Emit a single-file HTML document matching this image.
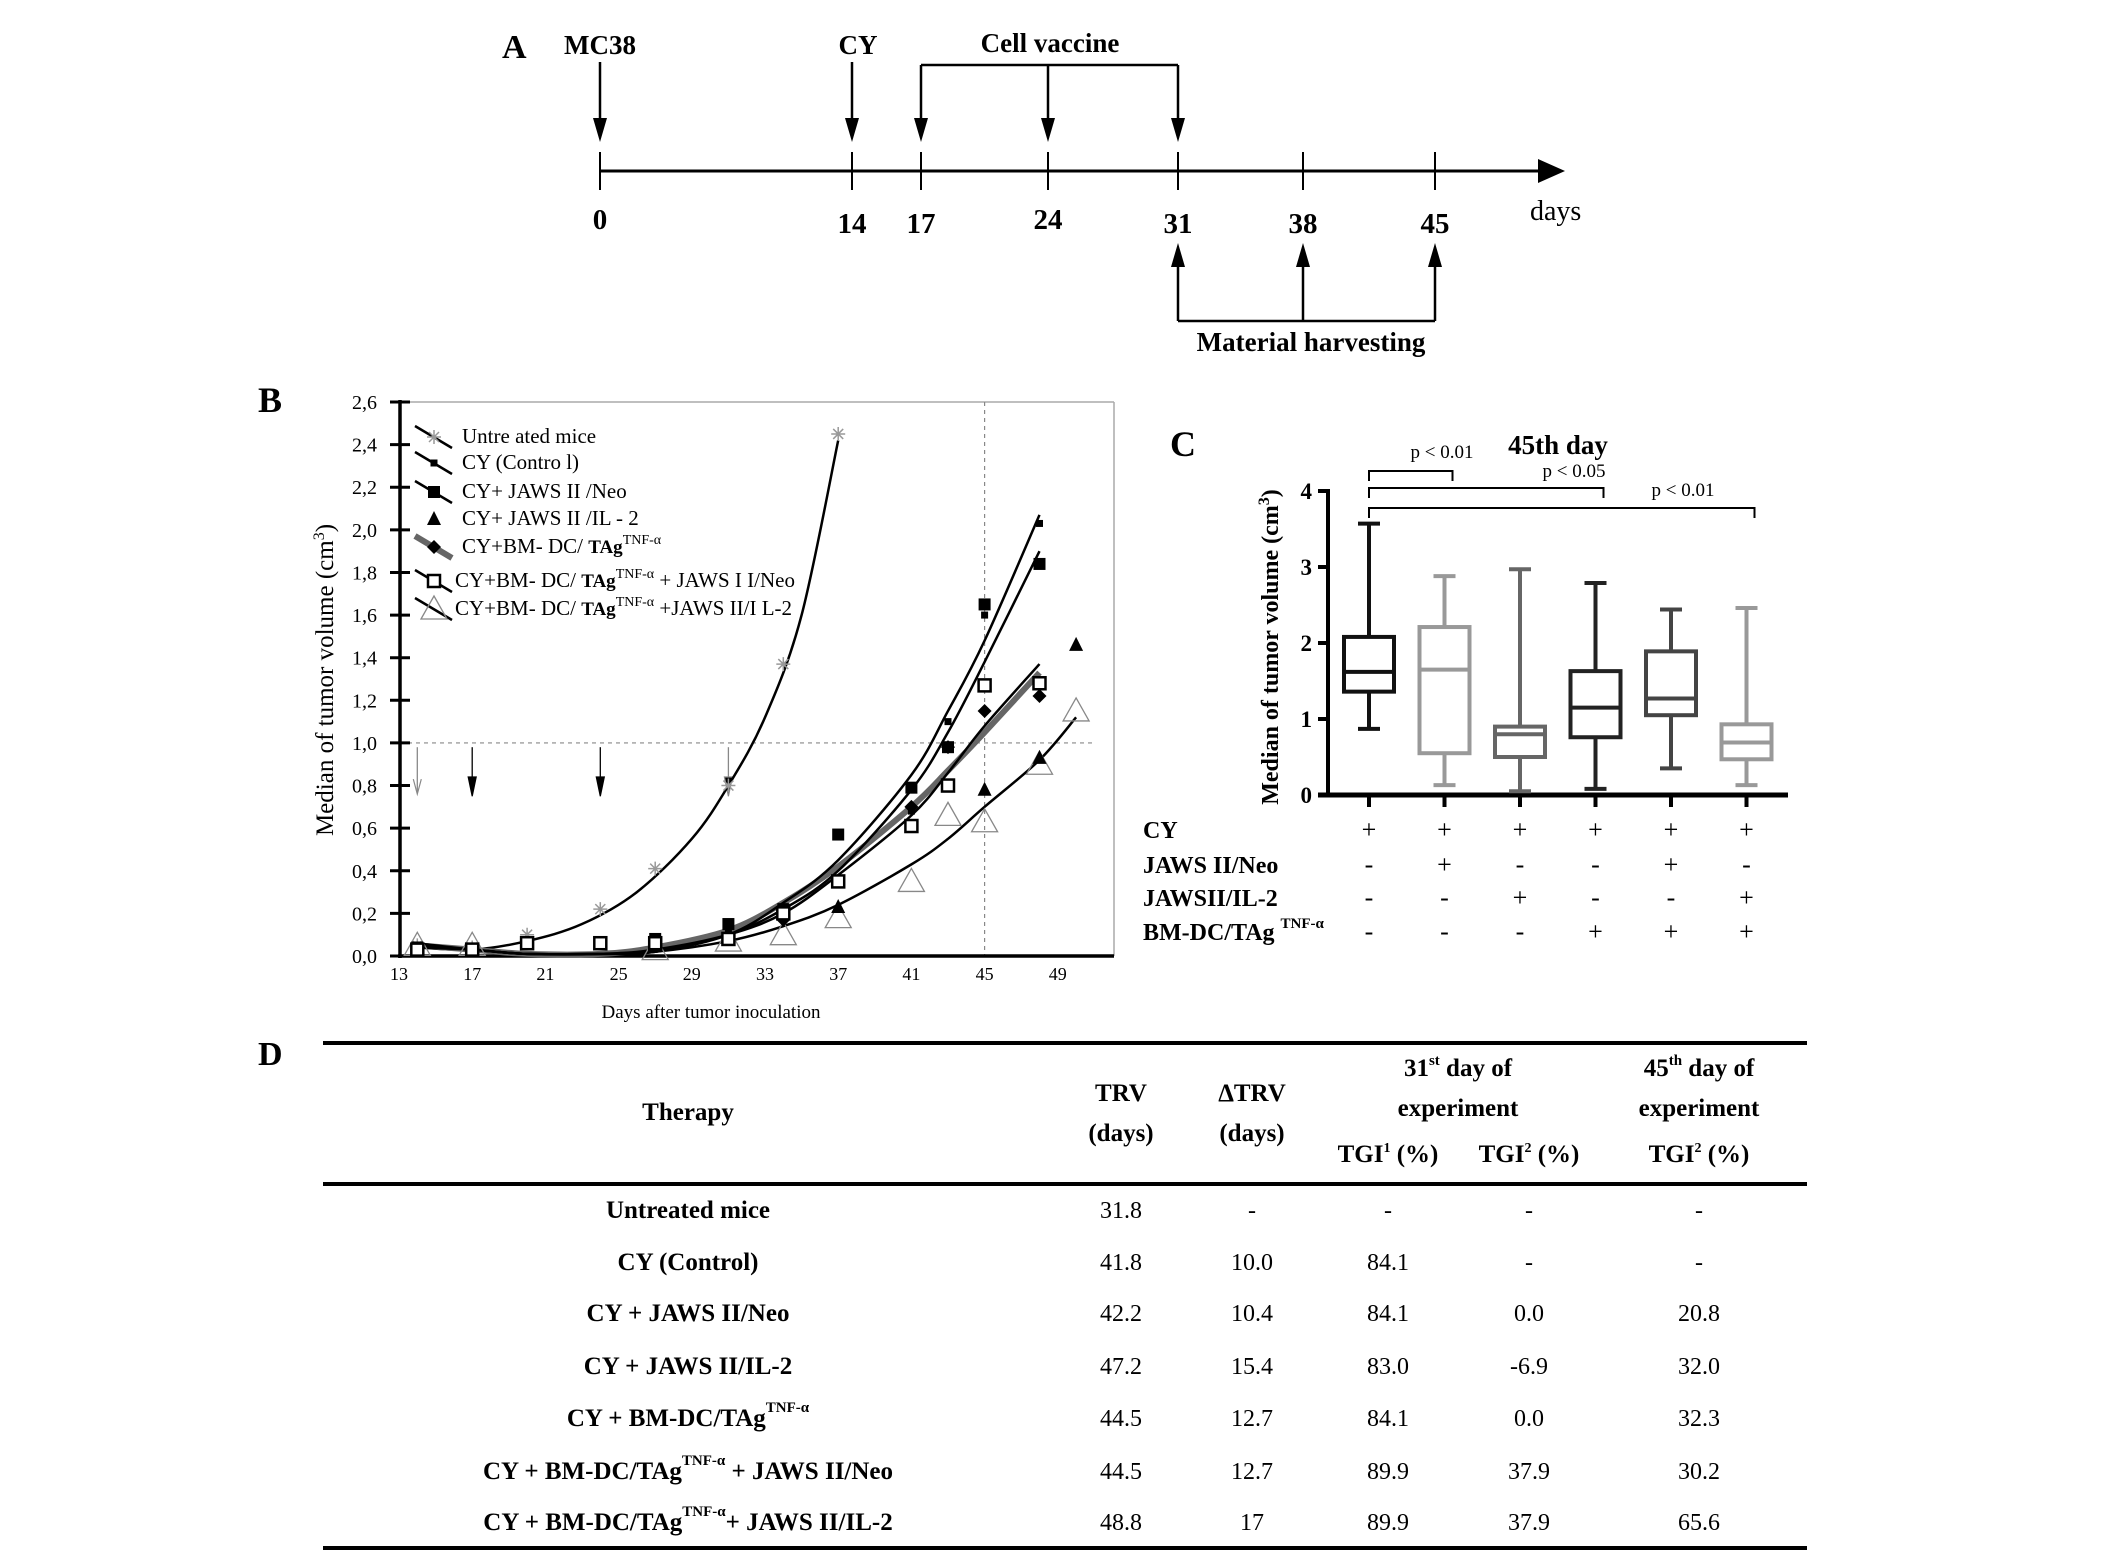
<!DOCTYPE html>
<html><head><meta charset="utf-8"><style>
html,body{margin:0;padding:0;background:#fff}
svg{display:block}
text{font-family:"Liberation Serif",serif}
</style></head><body>
<svg id="fig" width="2126" height="1562" viewBox="0 0 2126 1562" xmlns="http://www.w3.org/2000/svg">
<!-- Panel A -->
<g id="panelA">
<text x="502" y="58" font-size="34" font-weight="bold">A</text>
<line x1="600" y1="171" x2="1545" y2="171" stroke="#000" stroke-width="3"/>
<path d="M1538,159 L1565,171 L1538,183 z" fill="#000"/>
<text x="1530" y="220" font-size="28">days</text>
</g>
<!-- Panel B -->
<g id="panelB">
<text x="258" y="412" font-size="36" font-weight="bold">B</text>
</g>
<!-- Panel C -->
<g id="panelC">
<text x="1170" y="456" font-size="36" font-weight="bold">C</text>
<text x="1558" y="454" font-size="27" font-weight="bold" text-anchor="middle">45th day</text>
</g>
<!-- Panel D -->
<g id="panelD">
<text x="258" y="1065" font-size="34" font-weight="bold">D</text>
</g>
</svg>
<script>
const NS="http://www.w3.org/2000/svg";
function mk(parent,tag,attrs,txt){const e=document.createElementNS(NS,tag);for(const k in attrs)e.setAttribute(k,attrs[k]);if(txt!==undefined)e.textContent=txt;parent.appendChild(e);return e;}

/* ===== Panel A data ===== */
const timelineDays=[0,14,17,24,31,38,45];
const vaccineDays=[17,24,31];
const harvestDays=[31,38,45];
const gA=document.getElementById('panelA');
const tlX={0:600,14:852,17:921,24:1048,31:1178,38:1303,45:1435};
function ax(d){return tlX[d];}
timelineDays.forEach(d=>{
  const t=mk(gA,'line',{x1:ax(d),y1:152,x2:ax(d),y2:190,stroke:'#000','stroke-width':2});
  
  
  const l=mk(gA,'text',{x:ax(d),y:(d===0||d===24)?229:233,'font-size':29,'font-weight':'bold','text-anchor':'middle'},String(d));
  
  
});
function downArrow(x,y1,y2,name){const a=mk(gA,'line',{x1:x,y1:y1,x2:x,y2:y2-20,stroke:'#000','stroke-width':2.5});
 const h=mk(gA,'path',{d:`M${x-7},${y2-24} L${x},${y2} L${x+7},${y2-24} z`,fill:'#000'});}
downArrow(600,62,142,'mc38-arrow');downArrow(852,62,142,'cy-arrow');
vaccineDays.forEach(d=>downArrow(ax(d),65,142,'vaccine-arrow'));
const vb=mk(gA,'line',{x1:921,y1:65,x2:1178,y2:65,stroke:'#000','stroke-width':2.5});
harvestDays.forEach(d=>{const x=ax(d);const a=mk(gA,'line',{x1:x,y1:321,x2:x,y2:262,stroke:'#000','stroke-width':2.5});
 const h=mk(gA,'path',{d:`M${x-7},${267} L${x},${243} L${x+7},${267} z`,fill:'#000'});});
const hb=mk(gA,'line',{x1:1178,y1:321,x2:1435,y2:321,stroke:'#000','stroke-width':2.5});
[['MC38',600,54,'mc38-label'],['CY',858,54,'cy-label'],['Cell  vaccine',1050,52,'cell-vaccine-label'],['Material  harvesting',1311,351,'material-harvesting-label']].forEach(a=>{
 const t=mk(gA,'text',{x:a[1],y:a[2],'font-size':27,'font-weight':'bold','text-anchor':'middle','xml:space':'preserve'},a[0]);});

/* ===== Panel B data ===== */
const xTicksB=[13,17,21,25,29,33,37,41,45,49];
const yTicksB=[0,0.2,0.4,0.6,0.8,1.0,1.2,1.4,1.6,1.8,2.0,2.2,2.4,2.6];
const untreatedDays=[14,17,20,24,27,31,34,37];
const untreatedVals=[0.05,0.04,0.10,0.22,0.41,0.80,1.37,2.45];
const cyDays=[14,17,20,24,27,31,34,37,41,43,45,48];
const cyVals=[0.05,0.04,0.07,0.05,0.07,0.12,0.20,0.35,0.68,1.10,1.60,2.03];
const neoDays=[14,17,20,27,31,34,37,41,43,45,48];
const neoVals=[0.04,0.03,0.06,0.08,0.15,0.22,0.57,0.79,0.98,1.65,1.84];
const il2Days=[37,45,48,50];
const il2Vals=[0.23,0.78,0.93,1.46];
const bmDays=[34,37,41,43,45,48];
const bmVals=[0.17,0.35,0.70,0.98,1.15,1.22];
const bmNeoDays=[14,17,20,24,27,31,34,37,41,43,45,48];
const bmNeoVals=[0.03,0.03,0.06,0.06,0.06,0.08,0.20,0.35,0.61,0.80,1.27,1.28];
const bmIl2Days=[14,17,27,31,34,37,41,43,45,48,50];
const bmIl2Vals=[0.05,0.05,0.03,0.07,0.10,0.18,0.35,0.66,0.63,0.90,1.15];
const curveUntreatedDays=[14,17,20,23,26,29,31,33,35,37];
const curveUntreatedVals=[0.04,0.03,0.07,0.15,0.30,0.55,0.80,1.12,1.60,2.42];
const curveLateDays=[14,17,20,24,27,31,34,37,41,43,45,48];
const curveCyVals=[0.06,0.03,0.01,0.01,0.02,0.10,0.25,0.45,0.85,1.15,1.48,2.07];
const curveNeoVals=[0.05,0.03,0.01,0.01,0.02,0.10,0.22,0.40,0.78,1.05,1.38,1.90];
const curveBmVals=[0.05,0.03,0.01,0.01,0.04,0.12,0.25,0.42,0.70,0.87,1.05,1.33];
const curveBmNeoVals=[0.04,0.03,0.01,0.01,0.03,0.10,0.20,0.38,0.66,0.86,1.08,1.37];
const curveIl2Days=[14,17,20,24,27,31,34,37,41,43,45,48,50];
const curveIl2Vals=[0.05,0.03,0.01,0.01,0.02,0.07,0.14,0.24,0.43,0.55,0.70,0.92,1.12];
const injectionDays=[14,17,24,31];

const gB=document.getElementById('panelB');
const BX0=400,BX1=1114,BY0=956,BY1=402;
function bx(d){return 399+(d-13)*18.3;}
function by(v){return BY0-(v/2.6)*(BY0-BY1);}
let e;
e=mk(gB,'line',{x1:BX0,y1:BY1,x2:BX1,y2:BY1,stroke:'#aaa','stroke-width':1.5});
e=mk(gB,'line',{x1:BX1,y1:BY1,x2:BX1,y2:BY0,stroke:'#aaa','stroke-width':1.5});
e=mk(gB,'line',{x1:BX0,y1:by(1),x2:1095,y2:by(1),stroke:'#888','stroke-width':1.2,'stroke-dasharray':'4 4'});
e=mk(gB,'line',{x1:bx(45),y1:BY1,x2:bx(45),y2:BY0,stroke:'#888','stroke-width':1.2,'stroke-dasharray':'4 4'});
e=mk(gB,'line',{x1:BX0,y1:BY1-2,x2:BX0,y2:BY0+2,stroke:'#000','stroke-width':3.5});
e=mk(gB,'line',{x1:BX0-2,y1:BY0,x2:BX1,y2:BY0,stroke:'#000','stroke-width':3.5});
yTicksB.forEach(v=>{const y=by(v);
 const t=mk(gB,'line',{x1:BX0-10,y1:y,x2:BX0+10,y2:y,stroke:'#000','stroke-width':3});
 const l=mk(gB,'text',{x:377,y:y+7,'font-size':20,'text-anchor':'end'},v.toFixed(1).replace('.',','));});
xTicksB.forEach(d=>{const l=mk(gB,'text',{x:bx(d),y:980,'font-size':18,'text-anchor':'middle'},String(d));});
e=mk(gB,'text',{x:711,y:1018,'font-size':19,'text-anchor':'middle'},'Days after tumor inoculation');
e=mk(gB,'text',{x:0,y:0,'font-size':25,'text-anchor':'middle',transform:'translate(333,680) rotate(-90)'});
e.innerHTML='Median of tumor volume (cm<tspan dy="-9" font-size="16">3</tspan><tspan dy="9">)</tspan>';
injectionDays.forEach((d,i)=>{const x=bx(d);const col=(i===0||i===3)?'#888':'#000';
 const a=mk(gB,'line',{x1:x,y1:by(0.98),x2:x,y2:by(0.77),stroke:col,'stroke-width':1.3});
 const h=mk(gB,'path',{d:i===0?`M${x-4},${by(0.83)} L${x},${by(0.76)} L${x+4},${by(0.83)}`:`M${x-4},${by(0.84)} L${x},${by(0.75)} L${x+4},${by(0.84)} z`,fill:i===0?'none':'#000',stroke:col,'stroke-width':1.2});});
function smoothPath(days,vals){const p=days.map((d,i)=>[bx(d),by(vals[i])]);let s=`M${p[0][0]},${p[0][1]}`;
 for(let i=0;i<p.length-1;i++){const p0=p[i-1]||p[i],p1=p[i],p2=p[i+1],p3=p[i+2]||p2;
  s+=` C${p1[0]+(p2[0]-p0[0])/6},${p1[1]+(p2[1]-p0[1])/6} ${p2[0]-(p3[0]-p1[0])/6},${p2[1]-(p3[1]-p1[1])/6} ${p2[0]},${p2[1]}`;}return s;}
function curve(days,vals,col,w,name){const c=mk(gB,'path',{d:smoothPath(days,vals),fill:'none',stroke:col,'stroke-width':w});}
curve(curveUntreatedDays,curveUntreatedVals,'#000',2.5,'curve-untreated');
curve(curveLateDays,curveBmVals,'#666',6,'curve-bmdc');
curve(curveLateDays,curveCyVals,'#000',2.5,'curve-cy-control');
curve(curveLateDays,curveNeoVals,'#000',2.5,'curve-jaws-neo');
curve(curveLateDays,curveBmNeoVals,'#000',2.5,'curve-bmdc-neo');
curve(curveIl2Days,curveIl2Vals,'#000',2.5,'curve-bmdc-il2');
function marker(g,type,x,y,name){let m;
 if(type==='ast'){m=mk(g,'path',{d:`M${x-7},${y} L${x+7},${y} M${x},${y-7} L${x},${y+7} M${x-5},${y-5} L${x+5},${y+5} M${x-5},${y+5} L${x+5},${y-5}`,stroke:'#999','stroke-width':1.5,fill:'none'});}
 else if(type==='dot'){m=mk(g,'rect',{x:x-3.5,y:y-3.5,width:7,height:7,fill:'#000'});}
 else if(type==='sq'){m=mk(g,'rect',{x:x-6,y:y-6,width:12,height:12,fill:'#000'});}
 else if(type==='tri'){m=mk(g,'path',{d:`M${x},${y-8} L${x+7},${y+6} L${x-7},${y+6} z`,fill:'#000'});}
 else if(type==='dia'){m=mk(g,'path',{d:`M${x},${y-7} L${x+7},${y} L${x},${y+7} L${x-7},${y} z`,fill:'#000'});}
 else if(type==='osq'){m=mk(g,'rect',{x:x-6,y:y-6,width:12,height:12,fill:'#fff',stroke:'#000','stroke-width':2.5});}
 else {m=mk(g,'path',{d:`M${x},${y-13} L${x+13},${y+10} L${x-13},${y+10} z`,fill:'none',stroke:'#888','stroke-width':1.3});}
 
 }
function series(days,vals,type,name){days.forEach((d,i)=>marker(gB,type,bx(d),by(vals[i]),name));}
series(bmIl2Days,bmIl2Vals,'otri','point-bmdc-il2');
series(untreatedDays,untreatedVals,'ast','point-untreated');
series(cyDays,cyVals,'dot','point-cy-control');
series(neoDays,neoVals,'sq','point-jaws-neo');
series(il2Days,il2Vals,'tri','point-jaws-il2');
series(bmDays,bmVals,'dia','point-bmdc');
series(bmNeoDays,bmNeoVals,'osq','point-bmdc-neo');
const legendLabels=['Untre ated mice','CY  (Contro l)','CY+  JAWS II /Neo','CY+  JAWS II /IL - 2','CY+BM- DC/ TAg','CY+BM- DC/ TAg','CY+BM- DC/ TAg'];
const legendTypes=['ast','dot','sq','tri','dia','osq','otri'];
const legendY=[443,469,498,525,553,587,615];
legendLabels.forEach((lab,i)=>{const y=legendY[i];const g=mk(gB,'g',{});
 if(i!==3){const ln=mk(g,'line',{x1:415,y1:y-17,x2:452,y2:y+5,stroke:i===4?'#666':'#000','stroke-width':i===4?6:2.5});}
 marker(g,legendTypes[i],434,y-6,'legend-marker');
 const x=i>=5?455:462;
 const t=mk(g,'text',{x:x,y:y,'font-size':21,'xml:space':'preserve'});
 if(i>=4){t.innerHTML='CY+BM- DC/ <tspan font-weight="bold" font-size="19">TAg</tspan><tspan dy="-9" font-size="14">TNF-α</tspan><tspan dy="9">'+(i===5?'  + JAWS I I/Neo':i===6?'  +JAWS II/I L-2':'')+'</tspan>';}
 else t.textContent=lab;});

/* ===== Panel C data ===== */
const groupsC=['g1','g2','g3','g4','g5','g6'];
const whiskLo=[0.87,0.13,0.05,0.08,0.35,0.13];
const q1=[1.36,0.55,0.50,0.76,1.05,0.47];
const med=[1.62,1.65,0.80,1.15,1.27,0.69];
const q3=[2.08,2.21,0.90,1.63,1.89,0.93];
const whiskHi=[3.57,2.88,2.97,2.79,2.44,2.46];
const yTicksC=[0,1,2,3,4];
const rowLabelsC=['CY','JAWS II/Neo','JAWSII/IL-2','BM-DC/TAg'];
const signsC=[['+','+','+','+','+','+'],['-','+','-','-','+','-'],['-','-','+','-','-','+'],['-','-','-','+','+','+']];
const boxColors=['#111','#999','#666','#222','#444','#999'];
const gC=document.getElementById('panelC');
const CX0=1328,CY0=795;
function cy(v){return CY0-v*76;}
function cx(i){return 1369+i*75.5;}
e=mk(gC,'line',{x1:CX0,y1:cy(4)-2,x2:CX0,y2:CY0,stroke:'#000','stroke-width':4});
e=mk(gC,'line',{x1:CX0-10,y1:CY0,x2:1788,y2:CY0,stroke:'#000','stroke-width':5});
yTicksC.forEach(v=>{const t=mk(gC,'line',{x1:CX0-10,y1:cy(v),x2:CX0,y2:cy(v),stroke:'#000','stroke-width':4});
 const l=mk(gC,'text',{x:1312,y:cy(v)+8,'font-size':23,'font-weight':'bold','text-anchor':'end'},String(v));});
e=mk(gC,'text',{x:0,y:0,'font-size':24,'font-weight':'bold','text-anchor':'middle',transform:'translate(1278,647) rotate(-90)'});
e.innerHTML='Median of  tumor volume (cm<tspan dy="-9" font-size="16">3</tspan><tspan dy="9">)</tspan>';
groupsC.forEach((g,i)=>{const x=cx(i),col=boxColors[i];
 const grp=mk(gC,'g',{stroke:col,'stroke-width':4,fill:'none'});
 let a=mk(grp,'line',{x1:x,y1:cy(whiskHi[i]),x2:x,y2:cy(q3[i])});
 a=mk(grp,'line',{x1:x,y1:cy(q1[i]),x2:x,y2:cy(whiskLo[i])});
 a=mk(grp,'line',{x1:x-11,y1:cy(whiskHi[i]),x2:x+11,y2:cy(whiskHi[i])});
 a=mk(grp,'line',{x1:x-11,y1:cy(whiskLo[i]),x2:x+11,y2:cy(whiskLo[i])});
 a=mk(grp,'rect',{x:x-25,y:cy(q3[i]),width:50,height:cy(q1[i])-cy(q3[i]),fill:'#fff'});
 a=mk(grp,'line',{x1:x-25,y1:cy(med[i]),x2:x+25,y2:cy(med[i])});
 const t=mk(gC,'line',{x1:x,y1:CY0,x2:x,y2:807,stroke:'#000','stroke-width':4});
 signsC.forEach((row,r)=>{const s=mk(gC,'text',{x:x,y:[838,873,906,940][r],'font-size':26,'text-anchor':'middle'},row[i]);});});
rowLabelsC.forEach((lab,r)=>{const t=mk(gC,'text',{x:1143,y:[838,873,906,940][r],'font-size':24,'font-weight':'bold'});
 if(r===3)t.innerHTML='BM-DC/TAg <tspan dy="-12" font-size="15">TNF-α</tspan>';else t.textContent=lab;});
const brackets=[[0,1,471,'p < 0.01',1442,458],[0,3,488,'p < 0.05',1574,477],[0,5,508,'p < 0.01',1683,496]];
brackets.forEach(b=>{const x1=cx(b[0]),x2=cx(b[1])+8;
 const p=mk(gC,'path',{d:`M${x1},${b[2]+10} L${x1},${b[2]} L${x2},${b[2]} L${x2},${b[2]+10}`,fill:'none',stroke:'#000','stroke-width':2});
 const t=mk(gC,'text',{x:b[4],y:b[5],'font-size':19,'text-anchor':'middle'},b[3]);});

/* ===== Panel D table ===== */
const gD=document.getElementById('panelD');
const rowsY=[1210,1262,1313,1366,1418,1471,1522];
const colX=[688,1121,1252,1388,1529,1699];
const therapies=['Untreated mice','CY (Control)','CY + JAWS II/Neo','CY + JAWS II/IL-2','CY + BM-DC/TAg<tspan dy="-14" font-size="15">TNF-α</tspan>','CY + BM-DC/TAg<tspan dy="-14" font-size="15">TNF-α</tspan><tspan dy="14"> + JAWS II/Neo</tspan>','CY + BM-DC/TAg<tspan dy="-14" font-size="15">TNF-α</tspan><tspan dy="14">+ JAWS II/IL-2</tspan>'];
const trv=['31.8','41.8','42.2','47.2','44.5','44.5','48.8'];
const dtrv=['-','10.0','10.4','15.4','12.7','12.7','17'];
const tgi1=['-','84.1','84.1','83.0','84.1','89.9','89.9'];
const tgi2=['-','-','0.0','-6.9','0.0','37.9','37.9'];
const tgi45=['-','-','20.8','32.0','32.3','30.2','65.6'];
[[1043,'table-top-rule'],[1184,'table-header-rule'],[1548,'table-bottom-rule']].forEach(r=>{const l=mk(gD,'line',{x1:323,y1:r[0],x2:1807,y2:r[0],stroke:'#000','stroke-width':4});});
function htext(x,y,html,name){const t=mk(gD,'text',{x:x,y:y,'font-size':25,'font-weight':'bold','text-anchor':'middle'});t.innerHTML=html;}
htext(688,1120,'Therapy','header-therapy');
htext(1121,1101,'TRV','header-trv');htext(1121,1141,'(days)','header-trv-unit');
htext(1252,1101,'ΔTRV','header-dtrv');htext(1252,1141,'(days)','header-dtrv-unit');
htext(1458,1076,'31<tspan dy="-11" font-size="15">st</tspan><tspan dy="11"> day of</tspan>','header-day31');
htext(1458,1116,'experiment','header-day31-exp');
htext(1699,1076,'45<tspan dy="-11" font-size="15">th</tspan><tspan dy="11"> day of</tspan>','header-day45');
htext(1699,1116,'experiment','header-day45-exp');
htext(1388,1162,'TGI<tspan dy="-10" font-size="14">1</tspan><tspan dy="10"> (%)</tspan>','header-tgi1');
htext(1529,1162,'TGI<tspan dy="-10" font-size="14">2</tspan><tspan dy="10"> (%)</tspan>','header-tgi2');
htext(1699,1162,'TGI<tspan dy="-10" font-size="14">2</tspan><tspan dy="10"> (%)</tspan>','header-tgi45');
therapies.forEach((th,i)=>{const y=rowsY[i]+8;
 const t=mk(gD,'text',{x:colX[0],y:y,'font-size':25,'font-weight':'bold','text-anchor':'middle'});t.innerHTML=th;
 [trv,dtrv,tgi1,tgi2,tgi45].forEach((arr,j)=>{const c=mk(gD,'text',{x:colX[j+1],y:y,'font-size':24,'text-anchor':'middle'},arr[i]);});});
</script>
</body></html>
